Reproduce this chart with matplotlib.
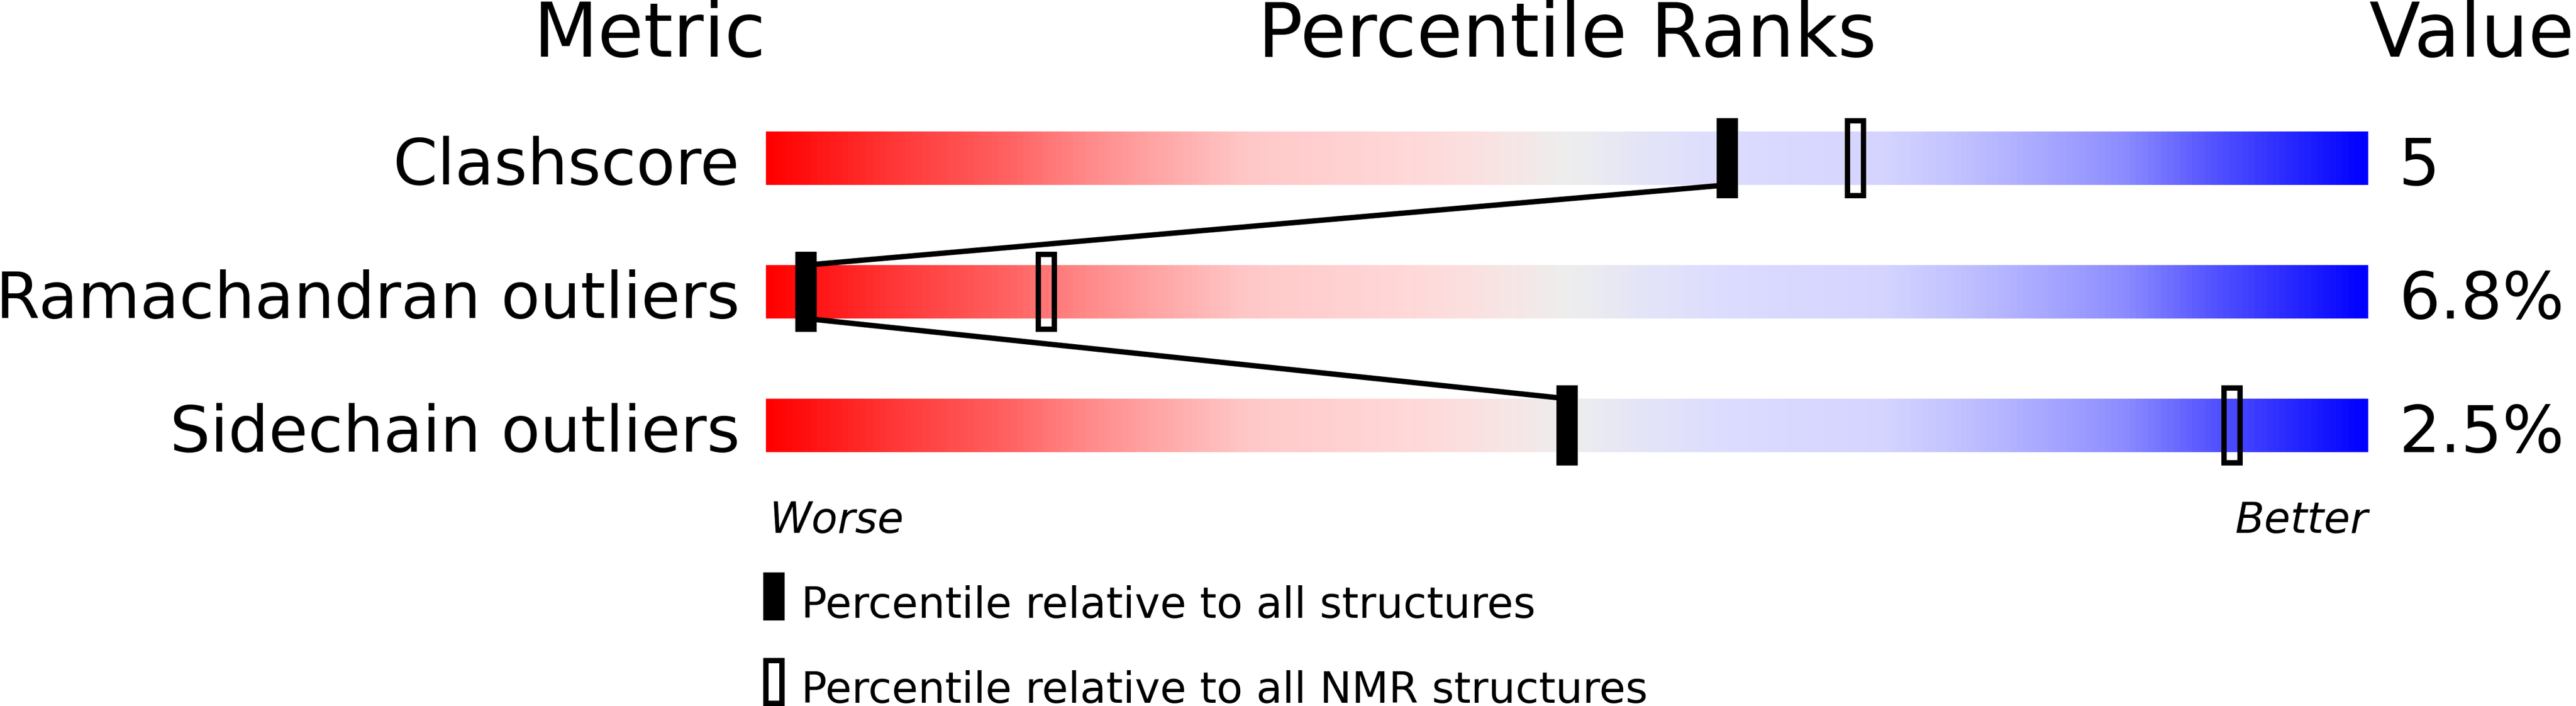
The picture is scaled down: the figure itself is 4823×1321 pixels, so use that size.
import numpy as np
import matplotlib
matplotlib.use("Agg")
import matplotlib.pyplot as plt
from matplotlib.colors import LinearSegmentedColormap
from matplotlib.patches import Rectangle

# data
metrics = ["Clashscore", "Ramachandran outliers", "Sidechain outliers"]
values = ["5", "6.8%", "2.5%"]
pct_all = [60, 2.5, 50]        # percentile relative to all structures
pct_nmr = [68, 17.5, 91.5]     # percentile relative to all NMR structures
legend_labels = ["Percentile relative to all structures",
                 "Percentile relative to all NMR structures"]

# layout (pixels)
W, H = 4823, 1321
bar_left, bar_right = 1434, 4434
bar_w = bar_right - bar_left
bar_h = 100
bar_top0 = 246
bar_step = 250
mk_w = 40
mk_over = 25

def px2pt(px):
    return px * 72.0 / 100.0

stops = [
    (0.000, "#ff0000"),
    (0.075, "#ff3535"),
    (0.150, "#ff6262"),
    (0.200, "#ff8a8a"),
    (0.250, "#ffaaaa"),
    (0.300, "#ffc8c8"),
    (0.400, "#ffd8d8"),
    (0.450, "#fae2e2"),
    (0.500, "#eeeeee"),
    (0.550, "#e4e4f8"),
    (0.600, "#dcdcff"),
    (0.700, "#d4d4ff"),
    (0.750, "#c0c0ff"),
    (0.800, "#a8a8ff"),
    (0.850, "#8c8cff"),
    (0.900, "#5858ff"),
    (0.950, "#2c2cff"),
    (1.000, "#0000ff"),
]
cmap = LinearSegmentedColormap.from_list("slider", stops)

fig = plt.figure(figsize=(W / 100, H / 100), dpi=100)
ax = fig.add_axes([0, 0, 1, 1])
ax.set_xlim(0, W)
ax.set_ylim(H, 0)
ax.axis("off")

grad = np.linspace(0, 1, 800).reshape(1, -1)

head_fs = px2pt(140)
lab_fs = px2pt(119.5)
val_fs = px2pt(122)
small_fs = px2pt(80)

ax.text(bar_left, 106, "Metric", ha="right", va="baseline", fontsize=head_fs)
ax.text((bar_left + bar_right) / 2, 106, "Percentile Ranks", ha="center",
        va="baseline", fontsize=head_fs)
ax.text(bar_right + 2, 106, "Value", ha="left", va="baseline", fontsize=head_fs)

def xpos(p):
    return bar_left + p / 100.0 * bar_w

for i, name in enumerate(metrics):
    top = bar_top0 + i * bar_step
    bot = top + bar_h
    ax.imshow(grad, extent=(bar_left, bar_right, bot, top), aspect="auto",
              cmap=cmap, interpolation="bilinear", zorder=1)
    ax.text(bar_left - 49, bot - 1, name, ha="right", va="baseline", fontsize=lab_fs)
    ax.text(bar_right + 57, bot, values[i], ha="left", va="baseline", fontsize=val_fs)

    # all structures (filled)
    xa = xpos(pct_all[i])
    ax.add_patch(Rectangle((xa - mk_w / 2, top - mk_over), mk_w, bar_h + 2 * mk_over,
                           facecolor="black", edgecolor="none", zorder=4))
    # NMR structures (open)
    xn = xpos(pct_nmr[i])
    ax.add_patch(Rectangle((xn - (mk_w - 10) / 2, top - mk_over + 5), mk_w - 10,
                           bar_h + 2 * mk_over - 10, facecolor="none",
                           edgecolor="black", linewidth=px2pt(10), zorder=4))

# connecting lines between the filled markers
for i in range(len(metrics) - 1):
    bot_i = bar_top0 + i * bar_step + bar_h
    top_n = bar_top0 + (i + 1) * bar_step
    ax.plot([xpos(pct_all[i]), xpos(pct_all[i + 1])], [bot_i, top_n],
            color="black", linewidth=px2pt(10), solid_capstyle="butt", zorder=3)

ax.text(bar_left + 6, 997, "Worse", ha="left", va="baseline", fontsize=small_fs,
        style="italic")
ax.text(bar_right, 997, "Better", ha="right", va="baseline", fontsize=small_fs,
        style="italic")

# legend
ax.add_patch(Rectangle((1429, 1071), 40, 90, facecolor="black", edgecolor="none"))
ax.text(1500, 1156, legend_labels[0], ha="left", va="baseline", fontsize=small_fs)
ax.add_patch(Rectangle((1434, 1236), 30, 80, facecolor="none", edgecolor="black",
                       linewidth=px2pt(10)))
ax.text(1500, 1315, legend_labels[1], ha="left", va="baseline", fontsize=small_fs)

fig.savefig("out.png", dpi=100)
